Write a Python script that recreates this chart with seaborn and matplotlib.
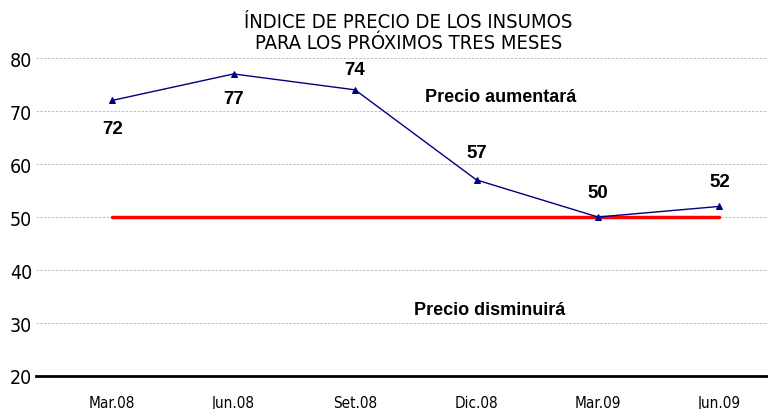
import matplotlib
matplotlib.use("Agg")
import matplotlib.pyplot as plt
import seaborn as sns
import pandas as pd

periods = ["Mar.08", "Jun.08", "Set.08", "Dic.08", "Mar.09", "Jun.09"]
index_values = [72, 77, 74, 57, 50, 52]
neutral_level = [50, 50, 50, 50, 50, 50]
label_offsets = [-20, -18, 15, 20, 18, 18]
y_ticks = [20, 30, 40, 50, 60, 70, 80]

sns.set_theme(style="white")
plt.rcParams["font.family"] = ["Liberation Sans", "DejaVu Sans"]
narrow = dict(family="DejaVu Sans", stretch="condensed")

df = pd.DataFrame({"periodo": periods, "indice": index_values, "neutral": neutral_level})
df["pos"] = range(len(df))

fig = plt.figure(figsize=(7.68, 4.10), dpi=100)
ax = fig.add_axes([0.047, 0.0805, 0.953, 0.7755])

sns.lineplot(data=df, x="pos", y="neutral", color="#ff0000", linewidth=2.5, ax=ax)
sns.lineplot(data=df, x="pos", y="indice", color="#000080", linewidth=1.0,
             marker="^", markersize=5, markeredgecolor="#000080", ax=ax)

for x, v, off in zip(df["pos"], index_values, label_offsets):
    ax.annotate(str(v), (x, v), xytext=(0, off), textcoords="offset points",
                ha="center", va="center", fontsize=13.5, fontweight="bold", color="black")

ax.set_xlim(-0.626, 5.4)
ax.set_ylim(20, 80)
ax.set_yticks(y_ticks)
ax.set_xticks(df["pos"])
ax.set_xticklabels(periods, fontsize=11, color="black", **narrow)
ax.set_yticklabels([str(t) for t in y_ticks], fontsize=14, color="black", **narrow)
ax.tick_params(axis="x", length=0, pad=14)
ax.tick_params(axis="y", length=0, pad=3)
ax.set_xlabel("")
ax.set_ylabel("")

for t in y_ticks[1:]:
    ax.axhline(t, color="#c0c0c0", linestyle=(0, (2.5, 1.5)), linewidth=0.7, zorder=0)

for side in ["top", "right", "left"]:
    ax.spines[side].set_visible(False)
ax.spines["bottom"].set_color("black")
ax.spines["bottom"].set_linewidth(2)

ax.text(3.2, 72.8, "Precio aumentará", ha="center", va="center",
        fontsize=13, fontweight="bold", color="black")
ax.text(3.11, 32.5, "Precio disminuirá", ha="center", va="center",
        fontsize=13, fontweight="bold", color="black")

fig.text(0.532, 0.92, "ÍNDICE DE PRECIO DE LOS INSUMOS\nPARA LOS PRÓXIMOS TRES MESES",
         ha="center", va="center", fontsize=14.5, color="black",
         linespacing=1.1, **narrow)

fig.savefig("out.png", dpi=100)
